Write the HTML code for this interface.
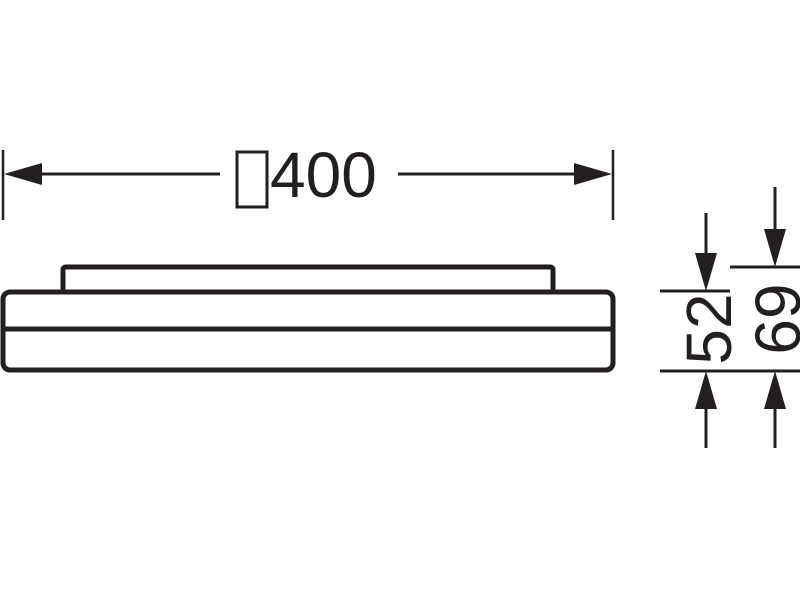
<!DOCTYPE html>
<html><head><style>
html,body{margin:0;padding:0;background:#fff;}
svg{display:block;}
</style></head><body>
<svg width="800" height="600" viewBox="0 0 800 600" xmlns="http://www.w3.org/2000/svg">
<g stroke="#231f20" fill="none">
<line x1="3" y1="150" x2="3" y2="220" stroke-width="2.5"/>
<line x1="613" y1="150" x2="613" y2="220" stroke-width="2.5"/>
<line x1="10" y1="174" x2="220" y2="174" stroke-width="3"/>
<line x1="398" y1="174" x2="600" y2="174" stroke-width="3"/>
<rect x="237" y="152" width="30" height="55" stroke-width="3"/>
<path d="M63,290 V270 Q63,267 66,267 H550 Q553,267 553,270 V290" stroke-width="5"/>
<rect x="3" y="292" width="610" height="78" rx="7" stroke-width="5"/>
<line x1="3" y1="329" x2="613" y2="329" stroke-width="5"/>
<line x1="706" y1="213" x2="706" y2="280" stroke-width="3"/>
<line x1="706" y1="380" x2="706" y2="448" stroke-width="3"/>
<line x1="775" y1="187" x2="775" y2="255" stroke-width="3"/>
<line x1="775" y1="380" x2="775" y2="448" stroke-width="3"/>
<line x1="660" y1="291" x2="730" y2="291" stroke-width="3"/>
<line x1="730" y1="267" x2="800" y2="267" stroke-width="3"/>
<line x1="660" y1="371" x2="800" y2="371" stroke-width="3"/>
</g>
<g fill="#231f20">
<polygon points="4,174 42,163 42,185"/>
<polygon points="612,174 574,163 574,185"/>
<polygon points="706,291 695,253 717,253"/>
<polygon points="775,267 764,229 786,229"/>
<polygon points="706,371 695,409 717,409"/>
<polygon points="775,371 764,409 786,409"/>
</g>
<g font-family="Liberation Sans, sans-serif" fill="#231f20" font-size="64">
<text x="270" y="197">400</text>
<text transform="translate(731,329) rotate(-90)" text-anchor="middle">52</text>
<text transform="translate(800,319) rotate(-90)" text-anchor="middle">69</text>
</g>
</svg>
</body></html>
